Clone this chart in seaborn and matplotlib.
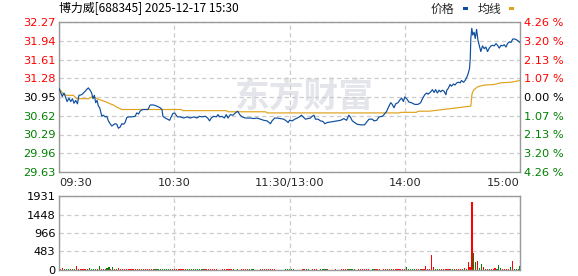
import matplotlib
matplotlib.use("Agg")
import matplotlib.pyplot as plt
import seaborn as sns
import pandas as pd
from matplotlib.patches import Rectangle

# ---------------- data ----------------
title = "博力威[688345] 2025-12-17 15:30"
prev_close = 30.95

price_min = [0, 1.0, 1.7, 2.6, 3.5, 4.2, 5.2, 6.1, 7.0, 7.8, 8.7, 9.6, 10.4, 11.8, 12.7, 13.6,
             14.6, 15.3, 16.2, 17.0, 17.7, 18.4, 19.1, 19.8, 20.5, 21.2, 22.3, 23.1, 24.0, 24.9,
             25.7, 26.6, 27.5, 28.3, 29.2, 30.1, 30.9, 31.8, 32.7, 33.6, 34.4, 35.3, 36.2, 37.9,
             39.6, 40.5, 41.4, 42.2, 43.5, 44.9, 46.3, 47.5, 49.2, 50.9, 52.7, 53.6, 54.1, 55.3,
             56.5, 57.6, 58.4, 59.3, 60.2, 61.0, 61.7, 63.1, 64.9, 66.6, 68.3, 70.1, 71.8, 73.2,
             74.4, 76.2, 77.4, 78.4, 79.3, 80.5, 81.9, 82.8, 83.6, 84.9, 86.1, 87.1, 88.0, 89.2,
             90.6, 91.8, 93.0, 94.1, 95.3, 97.0, 99.6, 101.4, 103.1, 104.9, 106.6, 108.3, 110.1,
             110.9, 112.3, 113.5, 115.3, 117.0, 118.3, 119.3, 120.0, 121.4, 122.8, 124.0, 125.2,
             126.2, 127.1, 128.3, 129.7, 130.9, 131.8, 132.7, 133.5, 134.9, 136.1, 137.4, 138.4,
             139.6, 141.4, 143.1, 144.8, 146.6, 148.3, 149.7, 150.9, 151.8, 152.7, 153.9, 155.3,
             157.0, 159.1, 160.2, 161.4, 163.1, 164.0, 165.4, 166.6, 168.3, 169.2, 170.6, 171.8,
             172.7, 173.5, 174.4, 175.3, 176.5, 177.5, 178.4, 179.3, 180.0, 181.0, 182.2, 183.4,
             185.2, 186.9, 188.3, 189.2, 190.4, 191.4, 192.1, 193.5, 194.4, 195.3, 196.1, 197.0,
             197.9, 198.7, 199.6, 200.5, 201.4, 201.9, 202.6, 203.6, 204.3, 205.4, 206.1, 207.1,
             208.0, 208.9, 209.5, 210.6, 211.4, 212.3, 213.0, 213.7, 214.1, 214.4, 214.9, 215.4,
             216.1, 216.7, 217.4, 218.1, 218.8, 219.6, 220.5, 221.4, 222.2, 223.1, 224.0, 224.9,
             225.7, 226.6, 227.5, 228.3, 229.2, 230.1, 230.9, 231.8, 232.7, 233.5, 234.4, 235.3,
             236.2, 237.4, 238.5, 240.0]
price_val = [31.10, 31.02, 30.96, 31.02, 30.94, 30.87, 30.93, 30.87, 30.92, 30.84, 30.89, 30.83,
             30.98, 30.99, 31.02, 31.05, 31.09, 31.11, 31.07, 31.02, 30.92, 30.98, 30.85, 30.89,
             30.79, 30.76, 30.61, 30.63, 30.60, 30.61, 30.53, 30.48, 30.44, 30.46, 30.48, 30.47,
             30.40, 30.42, 30.48, 30.47, 30.50, 30.59, 30.60, 30.60, 30.61, 30.67, 30.65, 30.70,
             30.73, 30.73, 30.73, 30.81, 30.81, 30.79, 30.76, 30.73, 30.61, 30.58, 30.56, 30.54,
             30.60, 30.66, 30.67, 30.63, 30.60, 30.60, 30.58, 30.60, 30.58, 30.60, 30.58, 30.61,
             30.60, 30.61, 30.58, 30.53, 30.58, 30.61, 30.60, 30.64, 30.60, 30.61, 30.58, 30.64,
             30.58, 30.64, 30.63, 30.67, 30.70, 30.64, 30.60, 30.58, 30.58, 30.57, 30.58, 30.56,
             30.54, 30.53, 30.48, 30.53, 30.58, 30.58, 30.57, 30.56, 30.53, 30.50, 30.54, 30.53,
             30.56, 30.58, 30.60, 30.63, 30.60, 30.56, 30.57, 30.58, 30.61, 30.63, 30.56, 30.56,
             30.53, 30.52, 30.48, 30.50, 30.51, 30.52, 30.53, 30.54, 30.57, 30.54, 30.63, 30.59,
             30.53, 30.50, 30.47, 30.46, 30.46, 30.51, 30.56, 30.56, 30.53, 30.54, 30.60, 30.61,
             30.64, 30.70, 30.79, 30.85, 30.82, 30.76, 30.83, 30.85, 30.90, 30.93, 30.87, 30.95,
             30.92, 30.86, 30.85, 30.82, 30.82, 30.85, 30.92, 30.99, 31.02, 31.00, 31.04, 31.08,
             31.03, 31.08, 31.02, 31.07, 31.04, 31.07, 31.05, 30.99, 31.07, 31.10, 31.17, 31.14,
             31.18, 31.16, 31.20, 31.21, 31.20, 31.24, 31.21, 31.24, 31.30, 31.36, 31.45, 31.62,
             31.98, 32.16, 32.04, 32.09, 31.98, 32.14, 31.95, 31.86, 31.75, 31.85, 31.80, 31.83,
             31.75, 31.81, 31.85, 31.86, 31.85, 31.89, 31.86, 31.81, 31.86, 31.85, 31.87, 31.83,
             31.89, 31.92, 31.91, 31.97, 31.97, 31.95, 31.91]

avg_min = [0, 2.3, 4.0, 7.5, 9.2, 15.3, 17.0, 18.4, 19.6, 21.4, 24.0, 26.6, 28.3, 30.1, 32.7,
           63.6, 64.5, 87.1, 88.0, 107.5, 108.5, 177.0, 178.0, 186.0, 187.0, 192.7, 200.0,
           209.7, 214.4, 215.0, 215.8, 217.9, 221.4, 226.6, 230.1, 235.3, 240.0]
avg_val = [31.10, 31.00, 30.98, 30.98, 30.92, 30.92, 30.95, 30.95, 30.92, 30.90, 30.87, 30.83,
           30.81, 30.77, 30.73, 30.73, 30.71, 30.71, 30.69, 30.69, 30.67, 30.67, 30.68, 30.68,
           30.70, 30.70, 30.73, 30.77, 30.79, 31.00, 31.07, 31.13, 31.16, 31.17, 31.20, 31.21,
           31.24]

volume = [26, 26, 52, 26, 26, 26, 35, 26, 26, 104,
          35, 35, 35, 35, 35, 35, 52, 35, 35, 35,
          35, 104, 35, 35, 35, 52, 78, 35, 78, 35,
          35, 61, 35, 35, 26, 26, 26, 26, 26, 26,
          26, 26, 35, 35, 26, 26, 35, 26, 26, 26,
          26, 26, 26, 26, 26, 26, 26, 26, 26, 35,
          26, 26, 26, 26, 26, 26, 26, 26, 26, 26,
          26, 26, 26, 26, 26, 26, 26, 26, 26, 26,
          26, 26, 26, 0, 0, 26, 26, 26, 26, 26,
          26, 26, 0, 26, 0, 26, 26, 26, 35, 26,
          26, 26, 0, 0, 0, 26, 26, 26, 26, 26,
          26, 26, 26, 0, 0, 0, 0, 0, 26, 26,
          26, 26, 26, 0, 0, 0, 0, 26, 26, 26,
          26, 0, 26, 26, 26, 0, 26, 26, 26, 26,
          26, 0, 0, 0, 26, 0, 0, 26, 26, 26,
          26, 26, 26, 26, 26, 0, 26, 26, 26, 26,
          26, 26, 0, 26, 26, 26, 26, 26, 0, 26,
          26, 26, 26, 26, 26, 26, 26, 26, 26, 26,
          26, 78, 26, 26, 26, 26, 26, 26, 26, 35,
          35, 104, 35, 26, 392, 70, 26, 35, 26, 35,
          26, 26, 35, 26, 26, 26, 26, 26, 26, 35,
          26, 61, 35, 217, 87, 1775, 452, 217, 244, 52,
          157, 87, 26, 35, 26, 26, 35, 52, 26, 130,
          61, 26, 26, 35, 35, 78, 235, 26, 26, 26,
          104]
volume_dir = ("ggrgggrggr" "rrrrrrgggg" "rgrgrggrgr" "grrrrrrrrr" "rrrrgrrrrr"
              "gggggggggr" "rrrrrrrggg" "ggggggrrrr" "rrrrrrrrrr" "rggggrrrrg"
              "gggggrgrrr" "rrrrrrrrgg" "gggggggrrg" "ggrrrggggg" "rrrrrrrrrr"
              "rgggggrrrr" "rrrggrrrrr" "rgrgrrrrrr" "rgggggrrgr"
              "rrrrrrgggr" "rrrrggrrrr" "grgrrrggrg" "grgrgrrrgg" "grrrrgrggg" "g")

price_ticks = [29.63, 29.96, 30.29, 30.62, 30.95, 31.28, 31.61, 31.94, 32.27]
pct_labels = ["4.26 %", "3.20 %", "2.13 %", "1.07 %", "0.00 %",
              "1.07 %", "2.13 %", "3.20 %", "4.26 %"]
vol_ticks = [0, 483, 966, 1448, 1931]
x_ticks = [0, 60, 120, 180, 240]
x_labels = ["09:30", "10:30", "11:30/13:00", "14:00", "15:00"]
legend_labels = ["价格", "均线"]

# ---------------- style ----------------
sns.set_theme(style="white")
plt.rcParams["font.family"] = ["DejaVu Sans"]
CJK = ["Noto Sans CJK SC", "DejaVu Sans"]

RED, GREEN, BLACK = "#ff0000", "#008000", "#000000"
PRICE_C, AVG_C = "#0c4d9e", "#dea21b"
GRID_C, SPINE_C = "#cccccc", "#999999"
W, H = 578, 276

fig = plt.figure(figsize=(W / 100, H / 100), dpi=100)
fig.patch.set_facecolor("white")

def fx(px):
    return px / W

def fy(py):
    return 1 - py / H

ax = fig.add_axes([fx(59), fy(172), fx(461), 150 / H])
axv = fig.add_axes([fx(59), fy(270), fx(461), 74 / H])

for a in (ax, axv):
    a.set_facecolor("white")
    for s in a.spines.values():
        s.set_color(SPINE_C)
        s.set_linewidth(1.0)
    a.grid(True, color=GRID_C, linestyle=(0, (3.5, 2.5)), linewidth=0.9)
    a.set_axisbelow(True)

# watermark
ax.text(fx(304), fy(96), "东方财富", transform=fig.transFigure, ha="center", va="center",
        fontsize=25, fontweight="bold", color="#e4e5ea", family=CJK, zorder=0.5)

# price + average lines
sns.lineplot(x=price_min, y=price_val, ax=ax, color=PRICE_C, linewidth=0.85,
             estimator=None, sort=False, zorder=3)
sns.lineplot(x=avg_min, y=avg_val, ax=ax, color=AVG_C, linewidth=0.85,
             estimator=None, sort=False, zorder=2)
ax.set_xlim(0, 240)
ax.set_ylim(price_ticks[0], price_ticks[-1])
ax.set_xlabel("")
ax.set_ylabel("")
ax.set_xticks(x_ticks)
ax.set_xticklabels(x_labels)
ax.set_yticks(price_ticks)
ax.set_yticklabels([f"{t:.2f}" for t in price_ticks])
ax.tick_params(axis="both", length=0, labelsize=8.2)
ax.tick_params(axis="y", pad=2.5)
ax.tick_params(axis="x", pad=4)
xl = ax.get_xticklabels()
xl[0].set_ha("left")
xl[-1].set_ha("right")
for lab, t in zip(ax.get_yticklabels(), price_ticks):
    lab.set_color(RED if t > prev_close + 1e-9 else (BLACK if abs(t - prev_close) < 1e-9 else GREEN))

axr = ax.twinx()
axr.set_ylim(price_ticks[0], price_ticks[-1])
axr.set_yticks(price_ticks)
axr.set_yticklabels(pct_labels)
axr.tick_params(axis="y", length=0, labelsize=8.2, pad=3)
for s in axr.spines.values():
    s.set_visible(False)
axr.grid(False)
for lab, t in zip(axr.get_yticklabels(), price_ticks):
    lab.set_color(RED if t > prev_close + 1e-9 else (BLACK if abs(t - prev_close) < 1e-9 else GREEN))

# volume bars
vdf = pd.DataFrame({"minute": list(range(len(volume))), "vol": volume, "dir": list(volume_dir)})
sns.barplot(data=vdf, x="minute", y="vol", hue="dir", hue_order=["r", "g"],
            palette={"r": RED, "g": GREEN}, native_scale=True, dodge=False,
            width=0.6, errorbar=None, legend=False, saturation=1, linewidth=0, ax=axv)
axv.set_xlim(0, 240)
axv.set_ylim(0, vol_ticks[-1])
axv.set_xlabel("")
axv.set_ylabel("")
axv.set_xticks(x_ticks)
axv.set_xticklabels([])
axv.set_yticks(vol_ticks)
axv.set_yticklabels([str(v) for v in vol_ticks])
axv.tick_params(axis="both", length=0, labelsize=8.2)
axv.tick_params(axis="y", pad=2.5, labelcolor=BLACK)

# title and legend
fig.text(fx(59), fy(9), title, ha="left", va="center", fontsize=8.6, family=CJK, color=BLACK)
fig.text(fx(431), fy(9), legend_labels[0], ha="left", va="center", fontsize=8.6, family=CJK)
fig.text(fx(478), fy(9), legend_labels[1], ha="left", va="center", fontsize=8.6, family=CJK)
fig.patches.append(Rectangle((fx(463), fy(10)), fx(5), 3 / H, transform=fig.transFigure,
                             facecolor=PRICE_C, edgecolor="none"))
fig.patches.append(Rectangle((fx(509), fy(10)), fx(5), 3 / H, transform=fig.transFigure,
                             facecolor=AVG_C, edgecolor="none"))

fig.savefig("out.png", dpi=100, facecolor="white")
